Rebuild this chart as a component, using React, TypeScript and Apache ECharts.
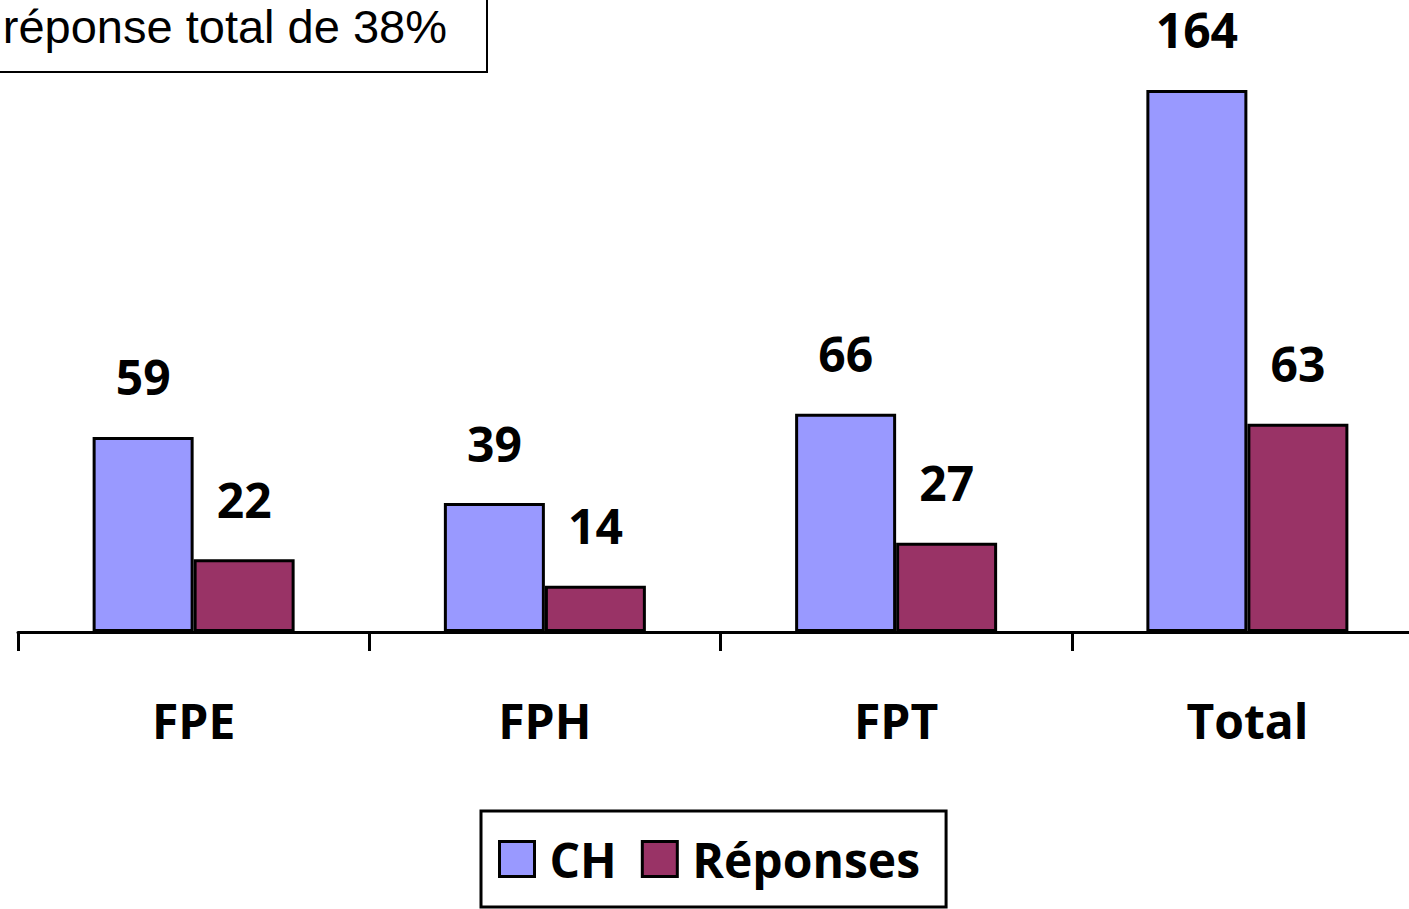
import React, { useEffect, useRef } from "react";
import * as echarts from "echarts";

const categories = ["FPE", "FPH", "FPT", "Total"];
const chValues = [59, 39, 66, 164];
const reponsesValues = [22, 14, 27, 63];
const seriesNames = ["CH", "Réponses"];
const noteText = "réponse total de 38%";

const FONT = "'Open Sans', 'Noto Sans', sans-serif";

export default function App() {
  const ref = useRef<HTMLDivElement>(null);

  useEffect(() => {
    if (!ref.current) return;
    const chart = echarts.init(ref.current, null, { renderer: "svg" });
    const labelStyle = {
      show: true,
      position: "top" as const,
      distance: 40,
      fontFamily: FONT,
      fontWeight: "bold" as const,
      fontSize: 48,
      lineHeight: 40,
      color: "#000",
    };
    chart.setOption({
      animation: false,
      backgroundColor: "#fff",
      grid: { left: 18, width: 1405, top: 37, bottom: 277, containLabel: false },
      xAxis: {
        type: "category",
        data: categories,
        boundaryGap: true,
        axisLine: { show: true, lineStyle: { color: "#000", width: 3 } },
        axisTick: { show: true, length: 19, lineStyle: { color: "#000", width: 3 } },
        axisLabel: {
          margin: 64,
          fontFamily: FONT,
          fontWeight: "bold",
          fontSize: 48,
          color: "#000",
        },
      },
      yAxis: {
        type: "value",
        min: 0,
        max: 180,
        show: false,
        splitLine: { show: false },
      },
      legend: {
        data: seriesNames,
        left: 481,
        top: 811,
        orient: "horizontal",
        padding: [24, 26, 24, 17],
        itemGap: 24,
        itemWidth: 35,
        itemHeight: 35,
        icon: "rect",
        borderColor: "#000",
        borderWidth: 3,
        backgroundColor: "#fff",
        itemStyle: { borderColor: "#000", borderWidth: 3 },
        textStyle: {
          fontFamily: FONT,
          fontWeight: "bold",
          fontSize: 48,
          color: "#000",
          padding: [0, 0, 0, 10],
        },
      },
      series: [
        {
          name: seriesNames[0],
          type: "bar",
          data: chValues,
          barWidth: 101,
          barGap: "0%",
          itemStyle: { color: "#9999FF", borderColor: "#000", borderWidth: 3 },
          label: labelStyle,
        },
        {
          name: seriesNames[1],
          type: "bar",
          data: reponsesValues,
          barWidth: 101,
          barGap: "0%",
          itemStyle: { color: "#993366", borderColor: "#000", borderWidth: 3 },
          label: labelStyle,
        },
      ],
      graphic: [
        {
          type: "rect",
          shape: { x: -10, y: -10, width: 497, height: 82 },
          style: { fill: "#fff", stroke: "#000", lineWidth: 2 },
          z: 10,
        },
        {
          type: "text",
          x: 447,
          y: 26,
          z: 11,
          style: {
            text: noteText,
            fontFamily: "'Liberation Sans', Arial, sans-serif",
            fontSize: 47,
            fill: "#000",
            align: "right",
            verticalAlign: "middle",
          },
        },
      ],
    });
    return () => chart.dispose();
  }, []);

  return (
    <div
      style={{
        position: "fixed",
        left: 0,
        top: 0,
        width: 1409,
        height: 909,
        overflow: "hidden",
        background: "#fff",
      }}
    >
      <div ref={ref} style={{ width: 1440, height: 909 }} />
    </div>
  );
}
